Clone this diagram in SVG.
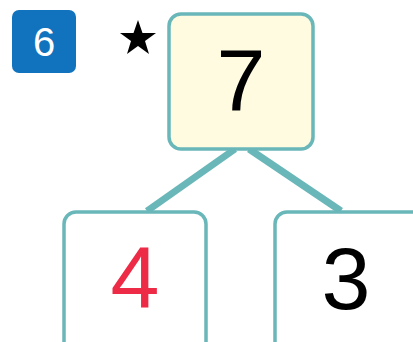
<svg xmlns="http://www.w3.org/2000/svg" width="413" height="342" viewBox="0 0 413 342">
<style>
.box{stroke:#69b7b9;stroke-width:3.5}
.num{font-family:"Liberation Sans",Arial,sans-serif;font-size:88px;text-anchor:middle}
.badge-num{font-family:"Liberation Sans",Arial,sans-serif;font-size:40px;fill:#ffffff;text-anchor:middle}
.conn{stroke:#69b7b9;stroke-width:7;stroke-linecap:butt}
</style>
<rect width="413" height="342" fill="#ffffff"/>
<g id="badge">
<rect x="12" y="10" width="64" height="63" rx="7" fill="#1173be"/>
<text class="badge-num" x="44" y="56">6</text>
</g>
<g id="star">
<polygon points="138,20 142.5,33 156,33 145,41 149,54 138,46 127,54 131,41 120,33 133.5,33" fill="#000000"/>
</g>
<g id="connectors">
<line class="conn" x1="235" y1="149" x2="147" y2="211"/>
<line class="conn" x1="249" y1="149" x2="341" y2="211"/>
</g>
<g id="node-top">
<rect class="box" x="169" y="14" width="144" height="135" rx="12" fill="#fefbe1"/>
<text class="num" x="241" y="111" fill="#000000">7</text>
</g>
<g id="node-left">
<rect class="box" x="64" y="212" width="142" height="150" rx="12" fill="#ffffff"/>
<text class="num" x="135" y="308" fill="#ee2b47">4</text>
</g>
<g id="node-right">
<rect class="box" x="275" y="212" width="150" height="150" rx="12" fill="#ffffff"/>
<text class="num" x="346" y="309" fill="#000000">3</text>
</g>
</svg>
